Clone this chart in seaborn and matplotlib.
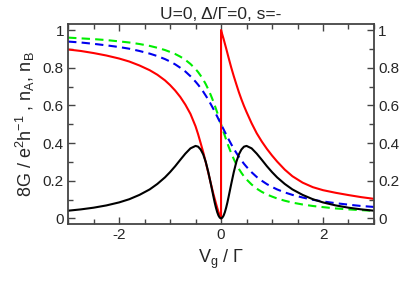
import numpy as np
import matplotlib
matplotlib.use("Agg")
import matplotlib.pyplot as plt
import seaborn as sns
from matplotlib.ticker import MultipleLocator, FixedLocator

# gate voltage grid (in units of Gamma), right half; left half is mirrored
vg_pos = [0.0, 0.025, 0.05, 0.075, 0.1, 0.125, 0.15, 0.2, 0.25, 0.3, 0.35, 0.4,
          0.45, 0.5, 0.6, 0.7, 0.8, 0.9, 1.0, 1.1, 1.25, 1.4, 1.6, 1.8, 2.0,
          2.25, 2.5, 2.75, 3.0]

# conductance 8G/(e^2/h), black (symmetric in Vg)
g_pos = [0.0, 0.004, 0.015, 0.033, 0.057, 0.085, 0.117, 0.183, 0.246, 0.300,
         0.340, 0.366, 0.381, 0.385, 0.372, 0.344, 0.311, 0.277, 0.246, 0.218,
         0.183, 0.154, 0.125, 0.102, 0.085, 0.069, 0.057, 0.048, 0.041]

# n_A, red: branch for Vg<0 (listed from 0 outward) and branch for Vg>0
na_neg = [0.0, 0.016, 0.034, 0.056, 0.080, 0.105, 0.130, 0.185, 0.242, 0.298,
          0.352, 0.400, 0.447, 0.489, 0.555, 0.604, 0.645, 0.679, 0.708, 0.733,
          0.763, 0.787, 0.812, 0.833, 0.849, 0.865, 0.878, 0.889, 0.897]
na_pos = [1.0, 0.976, 0.953, 0.928, 0.903, 0.877, 0.851, 0.801, 0.755, 0.712,
          0.670, 0.632, 0.597, 0.565, 0.505, 0.452, 0.408, 0.369, 0.334, 0.302,
          0.259, 0.224, 0.190, 0.166, 0.150, 0.136, 0.124, 0.113, 0.104]

# dashed curves for Vg>0 (value at -Vg is 1 - value)
green_pos = [0.500, 0.479, 0.458, 0.438, 0.418, 0.399, 0.380, 0.346, 0.315, 0.287,
             0.263, 0.242, 0.223, 0.207, 0.180, 0.158, 0.141, 0.127, 0.116, 0.106,
             0.094, 0.084, 0.074, 0.066, 0.060, 0.053, 0.048, 0.044, 0.040]
blue_pos = [0.500, 0.486, 0.473, 0.459, 0.446, 0.432, 0.419, 0.394, 0.370, 0.348,
            0.327, 0.308, 0.290, 0.274, 0.245, 0.220, 0.200, 0.182, 0.167, 0.154,
            0.138, 0.125, 0.111, 0.099, 0.090, 0.081, 0.073, 0.066, 0.061]

vp = np.array(vg_pos)
vg_full = np.concatenate([-vp[::-1], vp[1:]])
g_full = np.concatenate([np.array(g_pos)[::-1], np.array(g_pos)[1:]])
green_full = np.concatenate([1 - np.array(green_pos)[::-1], np.array(green_pos)[1:]])
blue_full = np.concatenate([1 - np.array(blue_pos)[::-1], np.array(blue_pos)[1:]])
red_x = np.concatenate([-vp[::-1], vp])
red_y = np.concatenate([np.array(na_neg)[::-1], np.array(na_pos)])

sns.set_style("ticks")
plt.rcParams['font.family'] = ['Liberation Sans', 'DejaVu Sans']
plt.rcParams['mathtext.fontset'] = 'custom'
plt.rcParams['mathtext.rm'] = 'Liberation Sans'
plt.rcParams['mathtext.it'] = 'Liberation Sans'

fig = plt.figure(figsize=(4.03, 2.84), dpi=100)
ax = fig.add_axes([0.169, 0.211, 0.759, 0.703])

sns.lineplot(x=vg_full, y=green_full, ax=ax, color="#00ee00", lw=1.5,
             sort=False, estimator=None, linestyle=(0, (4, 2.5)))
sns.lineplot(x=vg_full, y=blue_full, ax=ax, color="#0000ee", lw=1.5,
             sort=False, estimator=None, linestyle=(0, (4, 2.5)))
sns.lineplot(x=red_x, y=red_y, ax=ax, color="#ff0000", lw=1.5,
             sort=False, estimator=None)
sns.lineplot(x=vg_full, y=g_full, ax=ax, color="black", lw=1.5,
             sort=False, estimator=None)

ax.set_xlim(-3, 3)
ax.set_ylim(-0.03, 1.03)
ax.xaxis.set_major_locator(FixedLocator([-2, 0, 2]))
ax.xaxis.set_minor_locator(MultipleLocator(0.5))
ax.set_yticks([0, 0.2, 0.4, 0.6, 0.8, 1.0])
ax.set_yticklabels(["0", "0.2", "0.4", "0.6", "0.8", "1"])
ax.set_xticklabels(["-2", "0", "2"])
ax.yaxis.set_minor_locator(MultipleLocator(0.1))
ax.tick_params(which="both", direction="in", top=True, right=True,
               labelright=True, color="#444444", width=1.0, labelsize=11, pad=3)
ax.tick_params(which="major", length=5)
ax.tick_params(which="minor", length=3.5)
for s in ax.spines.values():
    s.set_linewidth(1.3)
    s.set_color("#444444")

ax.set_title("U=0, \u0394/\u0393=0, s=-", fontsize=12.5, pad=4)
ax.set_xlabel("V$_\\mathregular{g}$ / \u0393", fontsize=13, labelpad=4)
ax.set_ylabel("8G / e$^\\mathregular{2}$h$^\\mathregular{-1}$ , n$_\\mathregular{A}$, n$_\\mathregular{B}$",
              fontsize=13, labelpad=4)

fig.savefig("out.png", dpi=100)
